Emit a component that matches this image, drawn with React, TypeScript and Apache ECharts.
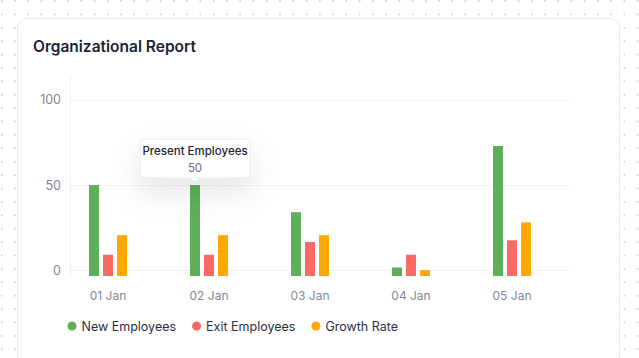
import React, { useEffect, useRef } from "react";
import * as echarts from "echarts";

const categories = ["01 Jan", "02 Jan", "03 Jan", "04 Jan", "05 Jan"];
const newEmployees = [50, 50, 34, 1.5, 73];
const exitEmployees = [9, 9, 16.5, 9, 17.5];
const growthRate = [20.5, 20.5, 20.5, 0, 28];
const yTicks = [0, 50, 100];
const seriesNames = ["New Employees", "Exit Employees", "Growth Rate"];
const seriesColors = ["#5faf5a", "#fa6964", "#ffa800"];
const titleText = "Organizational Report";
const tooltipTitle = "Present Employees";
const tooltipIndex = 1;

const Y_MIN = -3.5;
const Y_MAX = 113.5;
const FONT = "Inter, 'Noto Sans', sans-serif";

export default function App() {
  const ref = useRef<HTMLDivElement>(null);

  useEffect(() => {
    if (!ref.current) return;
    const chart = echarts.init(ref.current, undefined, { renderer: "svg" });
    const seriesData = [newEmployees, exitEmployees, growthRate];

    const option: any = {
      animation: false,
      textStyle: { fontFamily: FONT },
      title: {
        text: titleText,
        left: 33,
        top: 38,
        padding: 0,
        textStyle: { fontFamily: FONT, fontSize: 15.5, fontWeight: 600, color: "#1d2236" },
      },
      legend: {
        data: seriesNames,
        left: 67.5,
        top: 319.5,
        padding: 0,
        icon: "circle",
        itemWidth: 9,
        itemHeight: 9,
        itemGap: 16,
        textStyle: { fontFamily: FONT, fontSize: 12.5, color: "#2b2f3f" },
      },
      grid: [
        { left: 70, right: 69, top: 77, bottom: 82 },
        { left: 57.5, right: 76.5, top: 77, bottom: 82 },
      ],
      xAxis: [
        {
          gridIndex: 0,
          type: "category",
          data: categories,
          axisLine: { show: true, lineStyle: { color: "#f0f1f5", width: 1 } },
          axisTick: { show: false },
          axisLabel: { show: false },
          splitLine: { show: false },
        },
        {
          gridIndex: 1,
          type: "category",
          data: categories,
          axisLine: { show: false },
          axisTick: { show: false },
          axisLabel: { color: "#858896", fontSize: 12, margin: 13, fontFamily: FONT },
        },
      ],
      yAxis: [
        {
          gridIndex: 0,
          type: "value",
          min: Y_MIN,
          max: Y_MAX,
          axisLine: { show: true, lineStyle: { color: "#eef0f4" } },
          axisTick: { show: false, customValues: yTicks },
          axisLabel: {
            customValues: yTicks,
            color: "#80838f",
            fontSize: 12.5,
            margin: 9,
            fontFamily: FONT,
          },
          splitLine: { show: true, lineStyle: { color: "#f3f4f7" } },
        },
        {
          gridIndex: 1,
          type: "value",
          min: Y_MIN,
          max: Y_MAX,
          startValue: Y_MIN,
          show: false,
          splitLine: { show: false },
        },
      ],
      series: seriesNames.map((name, i) => ({
        name,
        type: "bar",
        xAxisIndex: 1,
        yAxisIndex: 1,
        data: seriesData[i],
        barWidth: 10,
        barGap: "40%",
        itemStyle: { color: seriesColors[i] },
      })),
    };

    chart.setOption(option);

    // Tooltip-like annotation anchored to the first series bar at tooltipIndex
    let tipX = 0;
    let tipY = 0;
    try {
      const layout: any = (chart as any)
        .getModel()
        .getSeriesByIndex(0)
        .getData()
        .getItemLayout(tooltipIndex);
      tipX = layout.x + layout.width / 2;
      tipY = Math.min(layout.y, layout.y + layout.height);
    } catch (e) {
      const p = chart.convertToPixel({ xAxisIndex: 1, yAxisIndex: 1 } as any, [
        categories[tooltipIndex],
        newEmployees[tooltipIndex],
      ]) as any;
      tipX = p[0] - 14;
      tipY = p[1];
    }
    const boxW = 110;
    const boxH = 39;
    const boxX = tipX - boxW / 2;
    const boxY = tipY - 7 - boxH;

    chart.setOption({
      graphic: [
        {
          type: "group",
          children: [
            {
              type: "rect",
              shape: { x: boxX, y: boxY, width: boxW, height: boxH, r: 4 },
              style: {
                fill: "#ffffff",
                stroke: "#e6e8ee",
                lineWidth: 1,
                shadowBlur: 30,
                shadowOffsetY: 14,
                shadowColor: "rgba(0,0,0,0.10)",
              },
              z: 100,
            },
            {
              type: "polygon",
              shape: {
                points: [
                  [tipX - 5, boxY + boxH - 0.5],
                  [tipX + 5, boxY + boxH - 0.5],
                  [tipX, boxY + boxH + 4],
                ],
              },
              style: { fill: "#ffffff", stroke: "#e6e8ee", lineWidth: 1 },
              z: 101,
            },
            {
              type: "rect",
              shape: { x: tipX - 6, y: boxY + boxH - 2, width: 12, height: 1.5 },
              style: { fill: "#ffffff" },
              z: 102,
            },
            {
              type: "text",
              x: tipX,
              y: boxY + 12,
              style: {
                text: tooltipTitle,
                fill: "#1f2333",
                font: `500 11.5px ${FONT}`,
                textAlign: "center",
                textVerticalAlign: "middle",
              },
              z: 103,
            },
            {
              type: "text",
              x: tipX,
              y: boxY + 28.5,
              style: {
                text: String(newEmployees[tooltipIndex]),
                fill: "#6d707d",
                font: `400 11.5px ${FONT}`,
                textAlign: "center",
                textVerticalAlign: "middle",
              },
              z: 103,
            },
          ],
        },
      ],
    });

    return () => chart.dispose();
  }, []);

  return (
    <div
      style={{
        position: "fixed",
        left: 0,
        top: 0,
        width: 639,
        height: 358,
        background: "#ffffff",
        backgroundImage: "radial-gradient(circle, #d6d8df 1px, transparent 1.3px)",
        backgroundSize: "13.25px 13.4px",
        backgroundPosition: "-4.9px -5.7px",
        overflow: "hidden",
      }}
    >
      <div
        style={{
          position: "absolute",
          left: 17,
          top: 18,
          width: 603,
          height: 350,
          boxSizing: "border-box",
          background: "#ffffff",
          border: "1px solid #e8eaf3",
          borderRadius: 10,
        }}
      />
      <div ref={ref} style={{ position: "absolute", left: 0, top: 0, width: 639, height: 358 }} />
    </div>
  );
}
